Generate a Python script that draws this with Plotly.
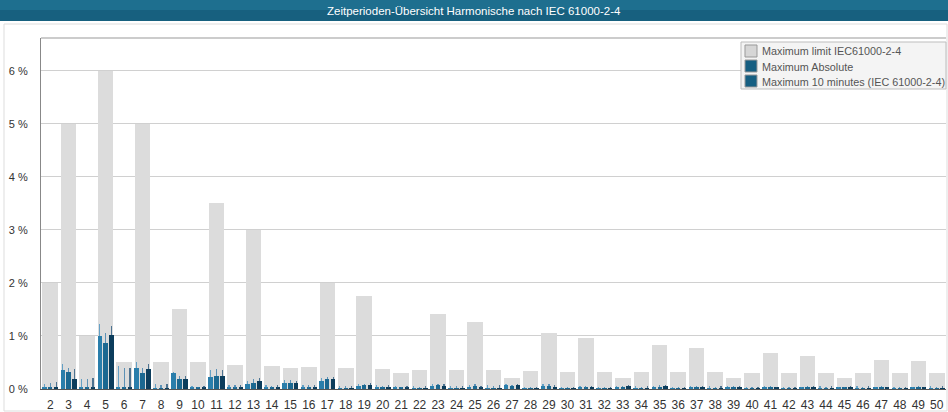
import plotly.graph_objects as go

harmonics = list(range(2, 51))

limit = [2.0, 5.0, 1.0, 6.0, 0.5, 5.0, 0.5, 1.5, 0.5, 3.5,
         0.46, 3.0, 0.43, 0.4, 0.41, 2.0, 0.39, 1.76, 0.38, 0.3,
         0.36, 1.41, 0.35, 1.27, 0.35, 0.2, 0.34, 1.06, 0.33, 0.97,
         0.33, 0.2, 0.32, 0.83, 0.32, 0.77, 0.32, 0.2, 0.31, 0.67,
         0.31, 0.63, 0.31, 0.2, 0.3, 0.55, 0.3, 0.52, 0.3]

# 10-minute maxima per phase (L1, L2, L3)
ten_l1 = [0.02, 0.35, 0.02, 1.00, 0.02, 0.40, 0.01, 0.30, 0.02, 0.22,
          0.02, 0.10, 0.02, 0.12, 0.02, 0.15, 0.01, 0.06, 0.02, 0.02,
          0.01, 0.05, 0.01, 0.03, 0.01, 0.08, 0.01, 0.05, 0.01, 0.03,
          0.01, 0.03, 0.01, 0.04, 0.01, 0.04, 0.01, 0.03, 0.01, 0.03,
          0.01, 0.02, 0.01, 0.02, 0.01, 0.02, 0.01, 0.02, 0.01]
ten_l2 = [0.02, 0.32, 0.02, 0.87, 0.02, 0.31, 0.01, 0.19, 0.02, 0.25,
          0.02, 0.12, 0.02, 0.12, 0.02, 0.19, 0.01, 0.07, 0.02, 0.02,
          0.01, 0.07, 0.01, 0.05, 0.01, 0.05, 0.01, 0.06, 0.01, 0.02,
          0.01, 0.03, 0.01, 0.04, 0.01, 0.03, 0.01, 0.04, 0.01, 0.03,
          0.01, 0.03, 0.01, 0.02, 0.01, 0.03, 0.01, 0.03, 0.01]
ten_l3 = [0.03, 0.19, 0.02, 1.02, 0.02, 0.37, 0.01, 0.19, 0.02, 0.24,
          0.02, 0.15, 0.02, 0.11, 0.02, 0.19, 0.01, 0.08, 0.02, 0.02,
          0.01, 0.06, 0.01, 0.02, 0.01, 0.08, 0.01, 0.04, 0.01, 0.04,
          0.01, 0.06, 0.01, 0.05, 0.01, 0.03, 0.01, 0.04, 0.01, 0.02,
          0.01, 0.04, 0.01, 0.03, 0.01, 0.02, 0.01, 0.02, 0.01]

# absolute maxima per phase (thin whiskers)
abs_l1 = [0.10, 0.48, 0.18, 1.23, 0.43, 0.50, 0.10, 0.32, 0.05, 0.35,
          0.08, 0.15, 0.07, 0.17, 0.08, 0.20, 0.06, 0.10, 0.07, 0.05,
          0.05, 0.09, 0.06, 0.08, 0.07, 0.10, 0.04, 0.09, 0.04, 0.05,
          0.04, 0.05, 0.05, 0.06, 0.04, 0.06, 0.05, 0.05, 0.03, 0.05,
          0.04, 0.04, 0.05, 0.04, 0.05, 0.04, 0.04, 0.04, 0.05]
abs_l2 = [0.12, 0.40, 0.18, 1.05, 0.39, 0.40, 0.08, 0.25, 0.04, 0.37,
          0.07, 0.19, 0.06, 0.17, 0.07, 0.22, 0.05, 0.10, 0.06, 0.04,
          0.04, 0.10, 0.05, 0.10, 0.05, 0.08, 0.03, 0.10, 0.03, 0.06,
          0.03, 0.06, 0.04, 0.07, 0.03, 0.06, 0.04, 0.06, 0.03, 0.05,
          0.03, 0.05, 0.04, 0.04, 0.04, 0.05, 0.03, 0.05, 0.04]
abs_l3 = [0.13, 0.37, 0.20, 1.18, 0.39, 0.48, 0.09, 0.25, 0.05, 0.36,
          0.08, 0.20, 0.07, 0.16, 0.08, 0.22, 0.06, 0.11, 0.07, 0.05,
          0.05, 0.09, 0.06, 0.06, 0.07, 0.10, 0.04, 0.08, 0.04, 0.06,
          0.04, 0.07, 0.05, 0.07, 0.04, 0.06, 0.05, 0.06, 0.03, 0.04,
          0.04, 0.05, 0.05, 0.05, 0.05, 0.04, 0.04, 0.04, 0.05]

y_ticks = [0, 1, 2, 3, 4, 5, 6]
y_tick_labels = ["0 %", "1 %", "2 %", "3 %", "4 %", "5 %", "6 %"]

title_text = "Zeitperioden-Übersicht Harmonische nach IEC 61000-2-4"
legend_names = ["Maximum limit IEC61000-2-4", "Maximum Absolute",
                "Maximum 10 minutes (IEC 61000-2-4)"]
legend_colors = ["#d6d6d6", "#165f82", "#165f82"]

fig = go.Figure()

fig.add_trace(go.Bar(
    x=harmonics, y=limit, name=legend_names[0], width=0.84,
    marker=dict(color="#dcdcdc", line=dict(width=0)),
    showlegend=False,
))

phase_colors = ["#2a7eab", "#1b6891", "#0c3d5c"]
whisker_colors = ["rgba(60,140,190,0.75)", "rgba(50,120,170,0.75)", "rgba(30,80,120,0.75)"]
for ten, ab, col, wcol, off in zip([ten_l1, ten_l2, ten_l3], [abs_l1, abs_l2, abs_l3],
                                   phase_colors, whisker_colors, [-0.44, -0.12, 0.2]):
    err = [max(a - t, 0) for a, t in zip(ab, ten)]
    fig.add_trace(go.Bar(
        x=harmonics, y=ten, width=0.24, offset=off, showlegend=False,
        marker=dict(color=col, line=dict(width=0)),
        error_y=dict(type="data", array=err, arrayminus=[0] * len(err),
                     symmetric=False, color=wcol, thickness=1.2, width=0),
    ))

W, H = 948, 412
ml, mr, mt, mb = 41, 2, 38, 23
pw, ph = W - ml - mr, H - mt - mb

def px_x(p):
    return (p - ml) / pw

def px_y(p):
    return 1 - (p - mt) / ph

shapes = [
    # outer panel border
    dict(type="rect", xref="paper", yref="paper",
         x0=px_x(4), x1=px_x(947), y0=px_y(411), y1=px_y(24),
         line=dict(color="#dddddd", width=1), fillcolor="rgba(0,0,0,0)", layer="below"),
    # title bar
    dict(type="rect", xref="paper", yref="paper",
         x0=px_x(0), x1=px_x(948), y0=px_y(21), y1=px_y(0),
         line=dict(width=0), fillcolor="#17607f", layer="above"),
    dict(type="rect", xref="paper", yref="paper",
         x0=px_x(0), x1=px_x(948), y0=px_y(10), y1=px_y(0),
         line=dict(width=0), fillcolor="#1e6f8f", layer="above"),
    # top frame line
    dict(type="line", xref="paper", yref="paper",
         x0=0, x1=1, y0=1, y1=1, line=dict(color="#999999", width=1)),
    # legend box
    dict(type="rect", xref="paper", yref="paper",
         x0=px_x(741), x1=px_x(946), y0=px_y(89), y1=px_y(42),
         line=dict(color="#bdbdbd", width=1), fillcolor="#f4f4f4", layer="above"),
]
annotations = [
    dict(text=title_text, xref="paper", yref="paper",
         x=px_x(474), y=px_y(11), xanchor="center", yanchor="middle",
         showarrow=False,
         font=dict(family="Liberation Sans Narrow, Arial Narrow, Liberation Sans, sans-serif",
                   size=11.5, color="white")),
]
for i, (nm, c) in enumerate(zip(legend_names, legend_colors)):
    top = 45 + i * 15
    shapes.append(dict(type="rect", xref="paper", yref="paper",
                       x0=px_x(745), x1=px_x(757), y0=px_y(top + 12), y1=px_y(top),
                       line=dict(color="#999999", width=1), fillcolor=c, layer="above"))
    annotations.append(dict(text=nm, xref="paper", yref="paper",
                            x=px_x(760), y=px_y(top + 6.5), xanchor="left", yanchor="middle",
                            showarrow=False,
                            font=dict(family="Arial, Liberation Sans, sans-serif",
                                      size=10.8, color="#555555")))

fig.update_layout(
    width=W, height=H,
    margin=dict(l=ml, r=mr, t=mt, b=mb, autoexpand=False),
    paper_bgcolor="white", plot_bgcolor="white",
    barmode="overlay", bargap=0,
    font=dict(family="Arial, Liberation Sans, sans-serif", size=11, color="#333333"),
    xaxis=dict(range=[1.5, 50.5], tickmode="array", tickvals=harmonics,
               ticktext=[str(h) for h in harmonics], showgrid=False,
               showline=True, linecolor="#555555", linewidth=1, ticks="",
               ticklabelstandoff=5,
               tickfont=dict(size=12, color="#333333"), zeroline=False,
               automargin=False),
    yaxis=dict(range=[0, 6.62], tickmode="array", tickvals=y_ticks,
               ticktext=y_tick_labels, showgrid=True, gridcolor="#d0d0d0",
               gridwidth=1, showline=True, linecolor="#888888", linewidth=1,
               ticks="", ticklabelstandoff=10, zeroline=False, automargin=False,
               tickfont=dict(size=11, color="#333333")),
    showlegend=False,
    shapes=shapes,
    annotations=annotations,
)

fig.write_html(
    "out.html",
    config={"displayModeBar": False},
    post_script="document.body.style.margin='0';document.body.style.overflow='hidden';",
)
